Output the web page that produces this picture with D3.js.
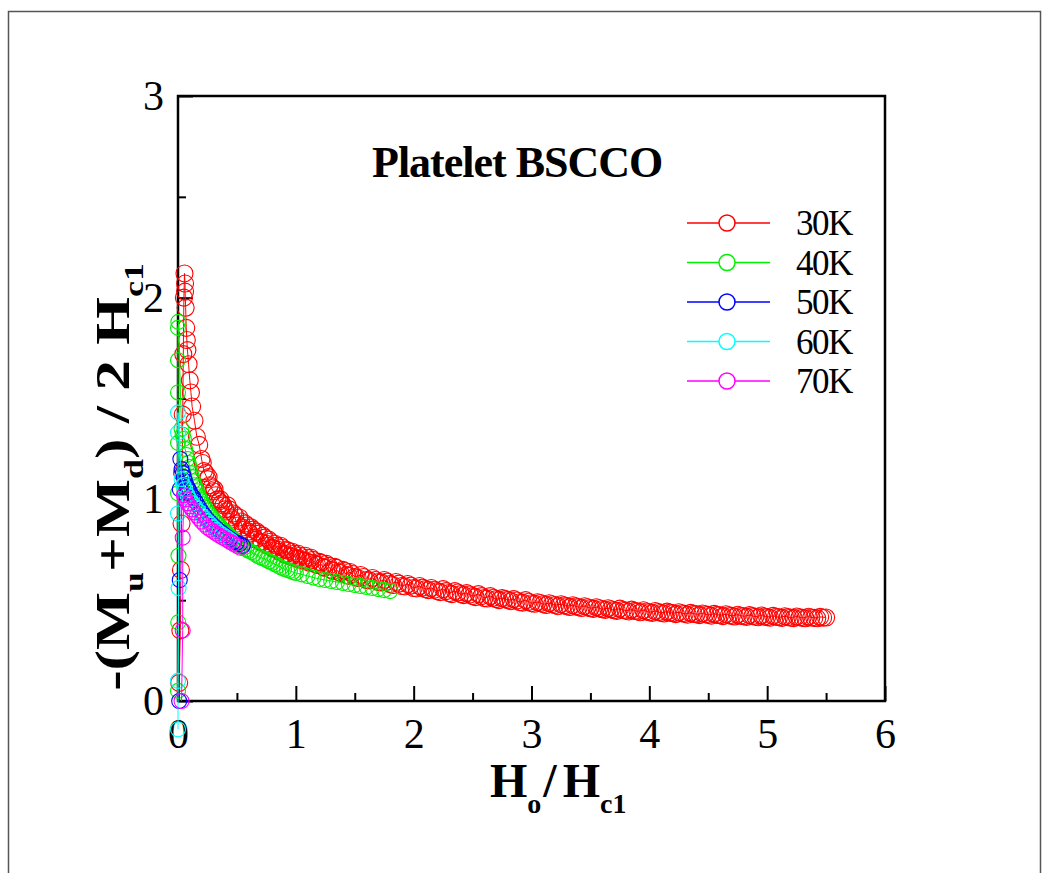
<!DOCTYPE html>
<html>
<head>
<meta charset="utf-8">
<script src="https://cdn.jsdelivr.net/npm/d3@7"></script>
<style>
  body { margin: 0; background: #fff; }
  text { font-family: "Liberation Serif", "Times New Roman", serif; }
</style>
</head>
<body>
<svg id="chart" width="1050" height="873"></svg>
<script>
// series labels + colours
const temps = ['30K', '40K', '50K', '60K', '70K'];
const colors = ['#ff0000', '#00f000', '#0000ff', '#00ffff', '#ff00ff'];
const xTicks = [0, 1, 2, 3, 4, 5, 6];
const yTicks = [0, 1, 2, 3];
const xMinor = [0.5, 1.5, 2.5, 3.5, 4.5, 5.5];
const yMinor = [0.5, 1.5, 2.5];

// [H0/Hc1, -(Mu+Md)/2Hc1]; main sweep first, then the extra scattered points
const s30 = [
  [0.01,0.09],[0.02,0.35],[0.025,0.65],[0.03,0.88],[0.035,1.13],[0.04,1.42],[0.045,1.72],[0.05,2.0],[0.055,2.12],
  [0.06,2.07],[0.06,2.03],[0.065,1.95],[0.07,1.85],[0.075,1.79],[0.08,1.74],[0.09,1.67],[0.1,1.59],[0.11,1.53],
  [0.12,1.46],[0.14,1.39],[0.16,1.31],[0.18,1.27],[0.2,1.2],[0.22,1.14],[0.25,1.1],[0.27,1.07],[0.3,1.04],
  [0.32,1.02],[0.35,0.99],[0.37,0.98],[0.4,0.95],[0.42,0.97],[0.45,0.91],[0.47,0.93],[0.5,0.88],[0.52,0.91],
  [0.55,0.86],[0.57,0.88],[0.6,0.84],[0.62,0.86],[0.65,0.81],[0.67,0.84],[0.7,0.79],[0.72,0.82],[0.75,0.78],
  [0.77,0.80],[0.8,0.76],[0.82,0.78],[0.85,0.75],[0.87,0.77],[0.9,0.73],[0.92,0.75],[0.95,0.72],[0.97,0.74],
  [1.0,0.71],[1.02,0.73],[1.05,0.70],[1.08,0.72],[1.1,0.69],[1.13,0.71],[1.16,0.68],[1.2,0.69],[1.23,0.665],
  [1.26,0.68],[1.3,0.65],[1.33,0.665],[1.36,0.64],[1.4,0.65],[1.43,0.625],[1.46,0.64],[1.5,0.615],[1.55,0.625],
  [1.6,0.60],[1.65,0.61],[1.7,0.59],[1.75,0.60],[1.8,0.58],[1.85,0.59],[1.9,0.57],[1.95,0.58],[2.0,0.56],
  [2.05,0.57],[2.1,0.555],[2.15,0.56],[2.2,0.545],[2.25,0.555],[2.3,0.535],[2.35,0.545],[2.4,0.53],[2.45,0.535],
  [2.5,0.52],[2.55,0.53],[2.6,0.51],[2.65,0.52],[2.7,0.505],[2.75,0.51],[2.8,0.50],[2.85,0.505],[2.9,0.49],
  [2.95,0.50],[3.0,0.485],[3.05,0.49],[3.1,0.48],[3.15,0.485],[3.2,0.475],[3.25,0.48],[3.3,0.47],[3.35,0.475],
  [3.4,0.465],[3.45,0.47],[3.5,0.46],[3.55,0.465],[3.6,0.455],[3.65,0.46],[3.7,0.45],[3.75,0.458],[3.8,0.448],
  [3.85,0.453],[3.9,0.444],[3.95,0.45],[4.0,0.44],[4.05,0.446],[4.1,0.437],[4.15,0.443],[4.2,0.435],[4.25,0.44],
  [4.3,0.432],[4.35,0.437],[4.4,0.43],[4.45,0.434],[4.5,0.427],[4.55,0.432],[4.6,0.425],[4.65,0.43],[4.7,0.422],
  [4.75,0.428],[4.8,0.42],[4.85,0.426],[4.9,0.418],[4.95,0.424],[5.0,0.416],[5.05,0.422],[5.1,0.415],[5.15,0.42],
  [5.2,0.413],[5.25,0.419],[5.3,0.412],[5.35,0.418],[5.4,0.412],[5.45,0.417],[5.5,0.414]
];
const s30x = [
  [0.21,1.18],[0.235,1.13],[0.26,1.11],[0.285,1.06],[0.31,1.05],[0.335,1.0],[0.36,1.0],[0.385,0.97],[0.41,0.94],
  [0.435,0.95],[0.46,0.9],[0.485,0.92],[0.51,0.87],[0.535,0.89],[0.56,0.85],[0.585,0.87],[0.61,0.83],[0.635,0.85],
  [0.66,0.8],[0.685,0.83],[0.71,0.785],[0.735,0.81],[0.76,0.77],[0.785,0.79],[0.81,0.755],[0.835,0.77],[0.86,0.74],
  [0.885,0.76],[0.91,0.725],[0.935,0.745],[0.96,0.715],[0.985,0.73],[1.01,0.705],[1.035,0.72],[1.065,0.695],
  [1.095,0.71],[1.12,0.685],[1.145,0.70],[1.18,0.675],[1.215,0.685],[1.245,0.66],[1.28,0.67],[1.315,0.645],
  [1.345,0.66],[1.38,0.635],[1.415,0.645],[1.45,0.62],[1.48,0.63],
  [1.525,0.61],[1.575,0.615],[1.625,0.598],[1.675,0.60],[1.725,0.588],[1.775,0.592],[1.825,0.575],[1.875,0.582],
  [1.925,0.568],[1.975,0.572],[2.025,0.558],[2.075,0.562],[2.125,0.55],[2.175,0.552],[2.225,0.54],[2.275,0.545],
  [2.325,0.53],[2.375,0.538],[2.425,0.525],[2.475,0.528],[2.525,0.515],[2.575,0.52],[2.625,0.508],[2.675,0.512],
  [2.725,0.50],[2.775,0.505],[2.825,0.495],[2.875,0.498],[2.925,0.488],[2.975,0.492],[3.025,0.482],[3.075,0.486],
  [3.125,0.476],[3.175,0.48],[3.225,0.47],[3.275,0.474],[3.325,0.466],[3.375,0.469],[3.425,0.461],[3.475,0.465],
  [3.525,0.457],[3.575,0.46],[3.625,0.452],[3.675,0.455],[3.725,0.447],[3.775,0.451],[3.825,0.444],[3.875,0.447],
  [3.925,0.44],[3.975,0.444],[4.025,0.437],[4.075,0.441],[4.125,0.434],[4.175,0.438],[4.225,0.431],[4.275,0.435],
  [4.325,0.428],[4.375,0.432],[4.425,0.426],[4.475,0.43],[4.525,0.423],[4.575,0.427],[4.625,0.421],[4.675,0.425],
  [4.725,0.419],[4.775,0.423],[4.825,0.417],[4.875,0.421],[4.925,0.415],[4.975,0.419],[5.025,0.413],[5.075,0.418],
  [5.125,0.412],[5.175,0.416],[5.225,0.411],[5.275,0.415],[5.325,0.41],[5.375,0.414],[5.425,0.41],[5.475,0.413]
];
const s40 = [
  [0.0,0.05],[0.002,0.39],[0.004,0.72],[0.0,1.03],[0.0,1.28],[0.0,1.53],[0.0,1.69],[0.0,1.85],[0.003,1.88],
  [0.03,1.35],[0.05,1.3],[0.06,1.25],[0.08,1.2],[0.1,1.16],[0.12,1.11],[0.14,1.07],[0.16,1.04],[0.18,1.01],
  [0.2,0.99],[0.23,0.96],[0.26,0.93],[0.29,0.91],[0.32,0.89],[0.35,0.87],[0.38,0.85],[0.41,0.83],[0.44,0.815],
  [0.47,0.80],[0.5,0.785],[0.53,0.77],[0.56,0.76],[0.6,0.745],[0.65,0.73],[0.7,0.712],[0.75,0.70],[0.8,0.685],
  [0.85,0.67],[0.9,0.655],[0.95,0.645],[1.0,0.635],[1.1,0.62],[1.2,0.605],[1.3,0.595],[1.4,0.585],[1.5,0.575],
  [1.6,0.565],[1.7,0.555],[1.8,0.545]
];
const s40x = [
  [0.04,1.32],[0.07,1.22],[0.09,1.18],[0.11,1.13],[0.13,1.09],[0.15,1.06],[0.17,1.02],[0.19,1.0],[0.215,0.975],
  [0.245,0.945],[0.275,0.92],[0.305,0.9],[0.335,0.88],[0.365,0.86],[0.395,0.84],[0.425,0.825],[0.455,0.81],
  [0.485,0.79],[0.515,0.78],[0.545,0.765],[0.58,0.752],[0.625,0.738],[0.675,0.72],[0.725,0.706],[0.775,0.692],
  [0.825,0.678],[0.875,0.662],[0.925,0.65],[0.975,0.64],[1.05,0.628],[1.15,0.612],[1.25,0.60],[1.35,0.59],
  [1.45,0.58],[1.55,0.57],[1.65,0.56],[1.75,0.55]
];
const s50 = [
  [0.01,0.0],[0.015,0.6],[0.015,1.05],[0.02,1.2],[0.04,1.13],[0.06,1.09],[0.08,1.06],[0.1,1.04],[0.13,1.01],
  [0.16,0.98],[0.2,0.94],[0.25,0.9],[0.3,0.87],[0.36,0.84],[0.4,0.82],[0.45,0.8],[0.5,0.785],[0.55,0.77]
];
const s50x = [
  [0.03,1.15],[0.05,1.11],[0.07,1.07],[0.09,1.05],[0.115,1.02],[0.145,0.995],[0.18,0.96],[0.225,0.92],
  [0.275,0.885],[0.33,0.855],[0.38,0.83],[0.425,0.81],[0.475,0.79],[0.525,0.778]
];
const s60 = [
  [0.0,-0.14],[0.0,0.1],[0.005,0.56],[0.0,0.93],[0.0,1.33],[0.0,1.43],[0.03,1.1],[0.06,1.05],[0.1,1.0],
  [0.15,0.96],[0.2,0.92],[0.25,0.89],[0.3,0.86],[0.35,0.835],[0.4,0.815],[0.45,0.795]
];
const s60x = [
  [0.045,1.07],[0.08,1.02],[0.125,0.98],[0.175,0.94],[0.225,0.905],[0.275,0.875],[0.325,0.848],[0.375,0.825],
  [0.425,0.805]
];
const s70 = [
  [0.03,0.0],[0.04,0.35],[0.04,0.81],[0.05,1.02],[0.08,0.98],[0.12,0.95],[0.16,0.92],[0.2,0.89],[0.25,0.86],
  [0.3,0.84],[0.35,0.82],[0.41,0.8],[0.47,0.78],[0.53,0.76]
];
const s70x = [
  [0.065,1.0],[0.1,0.965],[0.14,0.935],[0.18,0.905],[0.225,0.875],[0.275,0.85],[0.325,0.83],[0.38,0.81],
  [0.44,0.79],[0.5,0.77]
];
const seriesData = [s30, s40, s50, s60, s70];
const seriesExtra = [s30x, s40x, s50x, s60x, s70x];

const svg = d3.select('#chart');
const plot = {left: 178, top: 96, right: 885, bottom: 701};

const x = d3.scaleLinear().domain([0, 6]).range([plot.left, plot.right]);
const y = d3.scaleLinear().domain([0, 3]).range([plot.bottom, plot.top]);

// page frame
svg.append('rect')
  .attr('x', 8.5).attr('y', 11.5)
  .attr('width', 1032).attr('height', 900)
  .attr('fill', 'none').attr('stroke', '#555').attr('stroke-width', 1.5)
;

// axes, ticks pointing inwards
const styleAxis = g => {
  g.selectAll('path.domain').remove();
  g.selectAll('line').attr('stroke', '#000').attr('stroke-width', 2);
  g.selectAll('text').attr('fill', '#000').style('font-size', '42px');
};

svg.append('g')
  .attr('transform', `translate(0,${plot.bottom})`)
  .call(d3.axisBottom(x).tickValues(xTicks).tickFormat(d3.format('d')).tickSize(-15).tickSizeOuter(0).tickPadding(17))
  .call(styleAxis)
;
svg.append('g')
  .attr('transform', `translate(0,${plot.bottom})`)
  .call(d3.axisBottom(x).tickValues(xMinor).tickFormat('').tickSize(-8).tickSizeOuter(0))
  .call(styleAxis)
;
svg.append('g')
  .attr('transform', `translate(${plot.left},0)`)
  .call(d3.axisLeft(y).tickValues(yTicks).tickFormat(d3.format('d')).tickSize(-15).tickSizeOuter(0).tickPadding(14))
  .call(styleAxis)
;
svg.append('g')
  .attr('transform', `translate(${plot.left},0)`)
  .call(d3.axisLeft(y).tickValues(yMinor).tickFormat('').tickSize(-8).tickSizeOuter(0))
  .call(styleAxis)
;

svg.append('rect')
  .attr('x', plot.left).attr('y', plot.top)
  .attr('width', plot.right - plot.left).attr('height', plot.bottom - plot.top)
  .attr('fill', 'none').attr('stroke', '#000').attr('stroke-width', 2.5)
;

// data: open circles joined by thin lines
const line = d3.line().x(d => x(d[0])).y(d => y(d[1]));

seriesData.forEach((data, i) => {
  let
    g = svg.append('g').attr('class', 'series'),
    all = data.concat(seriesExtra[i])
    ;
  g.append('path')
    .attr('d', line(data))
    .attr('fill', 'none').attr('stroke', colors[i]).attr('stroke-width', 1)
  ;
  g.selectAll('circle')
    .data(all)
    .join('circle')
    .attr('cx', d => x(d[0]))
    .attr('cy', d => y(d[1]))
    .attr('r', i === 0 ? 8.5 : 7.5)
    .attr('fill', 'none').attr('stroke', colors[i]).attr('stroke-width', 1.1)
  ;
});

// legend
const legend = svg.append('g').attr('transform', 'translate(687,223)');
temps.forEach((t, i) => {
  let row = legend.append('g').attr('transform', `translate(0,${i * 39.5})`);
  row.append('line')
    .attr('x1', 0).attr('x2', 83).attr('y1', 0).attr('y2', 0)
    .attr('stroke', colors[i]).attr('stroke-width', 1.5)
  ;
  row.append('circle')
    .attr('cx', 40).attr('cy', 0).attr('r', 8)
    .attr('fill', '#fff').attr('stroke', colors[i]).attr('stroke-width', 1.5)
  ;
  row.append('text')
    .attr('x', 109).attr('y', 12)
    .style('font-size', '35px').style('letter-spacing', '-1.5px')
    .text(t)
  ;
});

// title
svg.append('text')
  .attr('x', 372).attr('y', 177)
  .style('font-size', '44px').style('font-weight', 'bold').style('letter-spacing', '-1px')
  .text('Platelet BSCCO')
;

// x axis title
const xt = svg.append('text')
  .attr('x', 490).attr('y', 797)
  .style('font-size', '48px').style('font-weight', 'bold')
;
xt.append('tspan').text('H');
xt.append('tspan').attr('dx', 0).attr('dy', 16).style('font-size', '28px').text('o');
xt.append('tspan').attr('dx', 2).attr('dy', -16).text('/');
xt.append('tspan').attr('dx', 6).text('H');
xt.append('tspan').attr('dy', 16).style('font-size', '28px').text('c1');

// y axis title (rotated)
const yt = svg.append('text')
  .attr('transform', 'translate(129,477) rotate(-90) scale(1.28,1)')
  .attr('text-anchor', 'middle')
  .style('font-size', '48px').style('font-weight', 'bold')
;
yt.append('tspan').text('-(M');
yt.append('tspan').attr('dy', 14).style('font-size', '28px').text('u');
yt.append('tspan').attr('dy', -14).text('+M');
yt.append('tspan').attr('dy', 14).style('font-size', '28px').text('d');
yt.append('tspan').attr('dy', -14).text(') / 2 H');
yt.append('tspan').attr('dy', 14).style('font-size', '28px').text('c1');
</script>
</body>
</html>
